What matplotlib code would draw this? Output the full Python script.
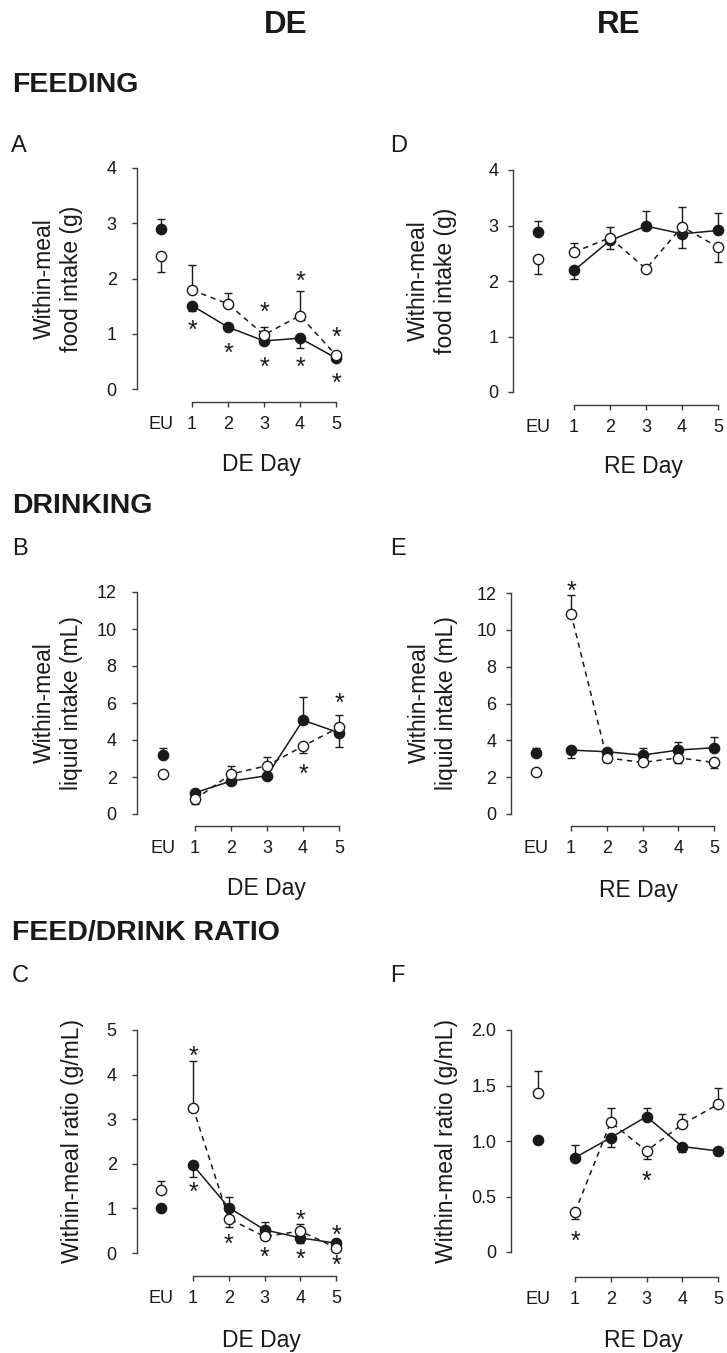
import numpy as np
import matplotlib.pyplot as plt
from matplotlib.transforms import offset_copy

plt.rcParams['font.family'] = ['Liberation Sans', 'DejaVu Sans']

W, H = 727, 1353

days = [1, 2, 3, 4, 5]
x_ticklabels = ['EU', '1', '2', '3', '4', '5']

# signed SEM: positive -> bar drawn upward, negative -> downward
# FEEDING, DE
feed_de_eu = [2.90, 2.41]            # filled, open
feed_de_eu_sem = [0.18, -0.29]
feed_de_fill = [1.51, 1.12, 0.87, 0.92, 0.56]
feed_de_fill_sem = [-0.09, -0.04, -0.04, -0.18, -0.03]
feed_de_open = [1.79, 1.54, 0.98, 1.33, 0.61]
feed_de_open_sem = [0.46, 0.20, 0.15, 0.45, 0.03]
feed_de_star_x = [1, 2, 3, 3, 4, 4, 5, 5]
feed_de_star_y = [1.19, 0.77, 1.51, 0.51, 2.08, 0.51, 1.06, 0.23]

# FEEDING, RE
feed_re_eu = [2.88, 2.40]
feed_re_eu_sem = [0.20, -0.28]
feed_re_fill = [2.19, 2.73, 2.99, 2.85, 2.91]
feed_re_fill_sem = [-0.16, -0.16, 0.28, -0.26, 0.32]
feed_re_open = [2.52, 2.78, 2.22, 2.98, 2.61]
feed_re_open_sem = [0.16, 0.20, -0.04, 0.36, -0.26]
feed_re_star_x = []
feed_re_star_y = []

# DRINKING, DE
drink_de_eu = [3.18, 2.16]
drink_de_eu_sem = [0.40, 0.0]
drink_de_fill = [1.15, 1.78, 2.07, 5.07, 4.39]
drink_de_fill_sem = [-0.10, -0.10, -0.05, 1.23, -0.76]
drink_de_open = [0.79, 2.16, 2.61, 3.67, 4.68]
drink_de_open_sem = [-0.25, 0.45, 0.48, -0.36, 0.66]
drink_de_star_x = [4, 5]
drink_de_star_y = [2.52, 6.37]

# DRINKING, RE
drink_re_eu = [3.29, 2.26]
drink_re_eu_sem = [0.32, -0.10]
drink_re_fill = [3.47, 3.38, 3.20, 3.47, 3.60]
drink_re_fill_sem = [-0.42, -0.10, 0.40, 0.45, 0.59]
drink_re_open = [10.88, 3.05, 2.80, 3.05, 2.80]
drink_re_open_sem = [0.99, -0.20, -0.10, -0.27, -0.29]
drink_re_star_x = [1]
drink_re_star_y = [12.47]

# FEED/DRINK RATIO, DE
ratio_de_eu = [1.00, 1.42]
ratio_de_eu_sem = [-0.03, 0.19]
ratio_de_fill = [1.97, 1.02, 0.52, 0.34, 0.22]
ratio_de_fill_sem = [-0.26, 0.24, 0.18, -0.12, -0.05]
ratio_de_open = [3.26, 0.77, 0.37, 0.49, 0.12]
ratio_de_open_sem = [1.04, -0.19, -0.05, 0.17, -0.05]
ratio_de_star_x = [1, 1, 2, 3, 4, 4, 5, 5]
ratio_de_star_y = [4.57, 1.52, 0.36, 0.06, 0.88, 0.02, 0.55, -0.13]

# FEED/DRINK RATIO, RE
ratio_re_eu = [1.01, 1.43]
ratio_re_eu_sem = [-0.02, 0.20]
ratio_re_fill = [0.85, 1.03, 1.22, 0.95, 0.91]
ratio_re_fill_sem = [0.11, -0.08, 0.08, -0.05, -0.04]
ratio_re_open = [0.36, 1.17, 0.91, 1.15, 1.33]
ratio_re_open_sem = [-0.06, 0.13, -0.07, 0.09, 0.15]
ratio_re_star_x = [1, 3]
ratio_re_star_y = [0.16, 0.70]

yticks_feed = [0, 1, 2, 3, 4]
yticks_drink = [0, 2, 4, 6, 8, 10, 12]
yticks_ratio_de = [0, 1, 2, 3, 4, 5]
yticks_ratio_re = [0, 0.5, 1.0, 1.5, 2.0]
yticklabels_ratio_re = ['0', '0.5', '1.0', '1.5', '2.0']

INK = '#1a1a1a'
AXC = '#3c3c3c'

fig = plt.figure(figsize=(W / 100, H / 100), dpi=100)


def fx(px):
    return px / W


def fy(py):
    return 1 - py / H


def make_axes(spine_x, x1, x5, base_y, y0, ytop_px, ytop, right_px):
    # place an axes so that the data positions land on the given pixel spots
    ux = (x5 - x1) / 4.0
    uy = (y0 - ytop_px) / ytop
    top_px = ytop_px - 4
    ax = fig.add_axes([fx(spine_x), fy(base_y),
                       (right_px - spine_x) / W, (base_y - top_px) / H])
    ax.set_xlim(1 - (x1 - spine_x) / ux, 5 + (right_px - x5) / ux)
    ax.set_ylim(-(base_y - y0) / uy, ytop + (ytop_px - top_px) / uy)
    ax.patch.set_visible(False)
    return ax


def split_sem(sem):
    sem = np.asarray(sem, dtype=float)
    return [np.clip(-sem, 0, None), np.clip(sem, 0, None)]


def draw_panel(ax, eu_x, eu, eu_sem, fill, fill_sem, opn, opn_sem,
               star_x, star_y, yticks, yticklabels, ypad):
    ms = 7.4
    eb = dict(fmt='none', ecolor=INK, elinewidth=1.0, capsize=3.0,
              capthick=1.0, zorder=2, clip_on=False)
    # error bars
    ax.errorbar(days, fill, yerr=split_sem(fill_sem), **eb)
    ax.errorbar(days, opn, yerr=split_sem(opn_sem), **eb)
    ax.errorbar([eu_x, eu_x], eu, yerr=split_sem(eu_sem), **eb)
    # connecting lines
    ax.plot(days, fill, color=INK, lw=1.1, zorder=3, clip_on=False)
    ax.plot(days, opn, color=INK, lw=1.1, ls=(0, (3.5, 3)), zorder=3,
            clip_on=False)
    # markers
    ax.plot(days + [eu_x], fill + [eu[0]], 'o', ms=ms, mfc=INK, mec=INK,
            mew=1.0, zorder=4, clip_on=False)
    ax.plot(days + [eu_x], opn + [eu[1]], 'o', ms=ms, mfc='white', mec=INK,
            mew=1.0, zorder=5, clip_on=False)
    # significance marks
    fs = 18
    trans = offset_copy(ax.transData, fig=fig, y=-0.58 * fs, units='points')
    for sx, sy in zip(star_x, star_y):
        ax.text(sx, sy, '*', fontsize=fs, ha='center', va='baseline',
                color=INK, transform=trans, zorder=6)

    for side in ['top', 'right']:
        ax.spines[side].set_visible(False)
    for side in ['left', 'bottom']:
        ax.spines[side].set_color(AXC)
        ax.spines[side].set_linewidth(1.0)
    ax.spines['bottom'].set_bounds(1, 5)
    ax.spines['left'].set_bounds(yticks[0], yticks[-1])

    ax.set_xticks([eu_x] + days)
    ax.set_xticklabels(x_ticklabels)
    ax.xaxis.get_major_ticks()[0].tick1line.set_visible(False)
    ax.set_yticks(yticks)
    ax.set_yticklabels(yticklabels)
    ax.tick_params(axis='both', direction='out', length=3.6, width=1.0,
                   color=AXC, labelsize=13, labelcolor=INK)
    ax.tick_params(axis='x', pad=6.5)
    ax.tick_params(axis='y', pad=ypad)


# column and section headings
fig.text(fx(286), fy(33), 'DE', fontsize=22.5, fontweight='bold',
         ha='center', va='baseline', color=INK)
fig.text(fx(619), fy(33), 'RE', fontsize=22.5, fontweight='bold',
         ha='center', va='baseline', color=INK)
fig.text(fx(12), fy(92), 'FEEDING', fontsize=20.5, fontweight='bold',
         ha='left', va='baseline', color=INK)
fig.text(fx(12), fy(513), 'DRINKING', fontsize=20.5, fontweight='bold',
         ha='left', va='baseline', color=INK)
fig.text(fx(12), fy(940), 'FEED/DRINK RATIO', fontsize=20.5,
         fontweight='bold', ha='left', va='baseline', color=INK)

for letter, lx, ly in [('A', 11, 152), ('D', 390, 152), ('B', 12, 555),
                       ('E', 390, 555), ('C', 12, 982), ('F', 390, 982)]:
    fig.text(fx(lx), fy(ly), letter, fontsize=17, ha='left',
             va='baseline', color=INK)

# A: feeding, DE
axA = make_axes(137, 192, 336, 402, 389, 168, 4, 360)
draw_panel(axA, 0.14, feed_de_eu, feed_de_eu_sem, feed_de_fill,
           feed_de_fill_sem, feed_de_open, feed_de_open_sem,
           feed_de_star_x, feed_de_star_y, yticks_feed,
           [str(v) for v in yticks_feed], 11)

# D: feeding, RE
axD = make_axes(513, 574, 718, 405, 392, 170, 4, 727)
draw_panel(axD, 0.0, feed_re_eu, feed_re_eu_sem, feed_re_fill,
           feed_re_fill_sem, feed_re_open, feed_re_open_sem,
           feed_re_star_x, feed_re_star_y, yticks_feed,
           [str(v) for v in yticks_feed], 7)

# B: drinking, DE
axB = make_axes(137, 195, 339, 826, 814, 592, 12, 360)
draw_panel(axB, 0.11, drink_de_eu, drink_de_eu_sem, drink_de_fill,
           drink_de_fill_sem, drink_de_open, drink_de_open_sem,
           drink_de_star_x, drink_de_star_y, yticks_drink,
           [str(v) for v in yticks_drink], 11)

# E: drinking, RE
axE = make_axes(511, 571, 714, 826, 814, 593, 12, 727)
draw_panel(axE, 0.02, drink_re_eu, drink_re_eu_sem, drink_re_fill,
           drink_re_fill_sem, drink_re_open, drink_re_open_sem,
           drink_re_star_x, drink_re_star_y, yticks_drink,
           [str(v) for v in yticks_drink], 7)

# C: ratio, DE
axC = make_axes(137, 193, 336, 1276, 1253, 1030, 5, 360)
draw_panel(axC, 0.10, ratio_de_eu, ratio_de_eu_sem, ratio_de_fill,
           ratio_de_fill_sem, ratio_de_open, ratio_de_open_sem,
           ratio_de_star_x, ratio_de_star_y, yticks_ratio_de,
           [str(v) for v in yticks_ratio_de], 11)

# F: ratio, RE
axF = make_axes(511, 575, 718, 1277, 1252, 1030, 2.0, 727)
draw_panel(axF, -0.03, ratio_re_eu, ratio_re_eu_sem, ratio_re_fill,
           ratio_re_fill_sem, ratio_re_open, ratio_re_open_sem,
           ratio_re_star_x, ratio_re_star_y, yticks_ratio_re,
           yticklabels_ratio_re, 7)

# axis titles
for txt, lx, ly in [('DE Day', 261, 471), ('RE Day', 643, 473),
                    ('DE Day', 266, 895), ('RE Day', 638, 897),
                    ('DE Day', 261, 1347), ('RE Day', 643, 1347)]:
    fig.text(fx(lx), fy(ly), txt, fontsize=16.5, ha='center',
             va='baseline', color=INK)

for txt, lx, ly in [('Within-meal\nfood intake (g)', 58, 279),
                    ('Within-meal\nfood intake (g)', 432, 281),
                    ('Within-meal\nliquid intake (mL)', 58, 703),
                    ('Within-meal\nliquid intake (mL)', 433, 703),
                    ('Within-meal ratio (g/mL)', 72, 1141),
                    ('Within-meal ratio (g/mL)', 446, 1141)]:
    fig.text(fx(lx), fy(ly), txt, fontsize=16.5, rotation=90,
             ha='center', va='center', multialignment='center',
             linespacing=1.2, color=INK)

fig.savefig('out.png', dpi=100)
